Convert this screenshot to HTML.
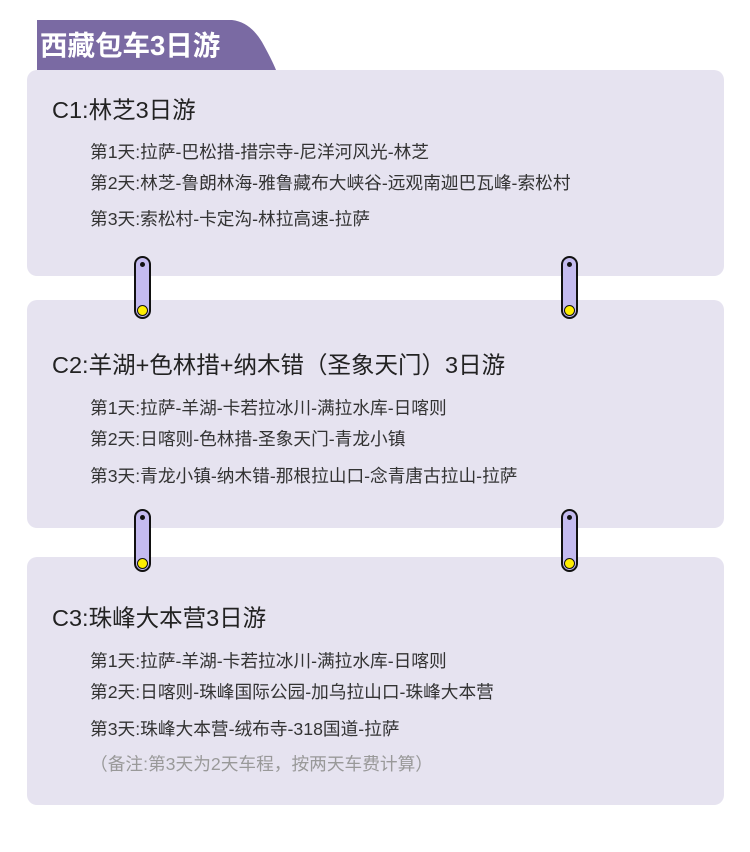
<!DOCTYPE html>
<html><head><meta charset="utf-8"><style>
body{margin:0;width:750px;height:852px;background:#fff;position:relative;overflow:hidden;font-family:"Liberation Sans","Noto Sans CJK SC",sans-serif;color:#333}
.p{position:absolute;left:27px;width:697px;background:#e6e3f0;border-radius:10px}
.t{position:absolute;left:52px;font-size:23.5px;line-height:30px;color:#222;white-space:nowrap}
.l{position:absolute;left:90px;font-size:17.7px;line-height:24px;color:#333;white-space:nowrap}
.c{position:absolute;width:13px;height:59px;background:#c4bbef;border:2px solid #111;border-radius:9px}
.c:before{content:"";position:absolute;left:4px;top:4px;width:5px;height:5px;border-radius:50%;background:#111}
.c:after{content:"";position:absolute;left:1px;bottom:1px;width:9px;height:9px;border-radius:50%;background:#ffee00;border:1px solid #111}
</style></head><body>
<svg style="position:absolute;left:0;top:0" width="300" height="75"><path d="M37 20 L232 20 Q250 22 262 42 Q272 60 276 70 L37 70 Z" fill="#7a6aa3"/></svg>
<div style="position:absolute;left:40px;top:29px;font-size:27.5px;font-weight:bold;color:#fff;line-height:34px">西藏包车3日游</div>
<div class="p" style="top:70px;height:206px"></div>
<div class="p" style="top:300px;height:228px"></div>
<div class="p" style="top:557px;height:248px"></div>
<div class="t" style="top:95px">C1:林芝3日游</div>
<div class="l" style="top:140px">第1天:拉萨-巴松措-措宗寺-尼洋河风光-林芝</div>
<div class="l" style="top:171px">第2天:林芝-鲁朗林海-雅鲁藏布大峡谷-远观南迦巴瓦峰-索松村</div>
<div class="l" style="top:207px">第3天:索松村-卡定沟-林拉高速-拉萨</div>
<div class="t" style="top:350px">C2:羊湖+色林措+纳木错（圣象天门）3日游</div>
<div class="l" style="top:396px">第1天:拉萨-羊湖-卡若拉冰川-满拉水库-日喀则</div>
<div class="l" style="top:427px">第2天:日喀则-色林措-圣象天门-青龙小镇</div>
<div class="l" style="top:464px">第3天:青龙小镇-纳木错-那根拉山口-念青唐古拉山-拉萨</div>
<div class="t" style="top:603px">C3:珠峰大本营3日游</div>
<div class="l" style="top:649px">第1天:拉萨-羊湖-卡若拉冰川-满拉水库-日喀则</div>
<div class="l" style="top:680px">第2天:日喀则-珠峰国际公园-加乌拉山口-珠峰大本营</div>
<div class="l" style="top:717px">第3天:珠峰大本营-绒布寺-318国道-拉萨</div>
<div class="l" style="top:752px;color:#999">（备注:第3天为2天车程，按两天车费计算）</div>
<div class="c" style="left:134px;top:256px"></div>
<div class="c" style="left:561px;top:256px"></div>
<div class="c" style="left:134px;top:509px"></div>
<div class="c" style="left:561px;top:509px"></div>
</body></html>
